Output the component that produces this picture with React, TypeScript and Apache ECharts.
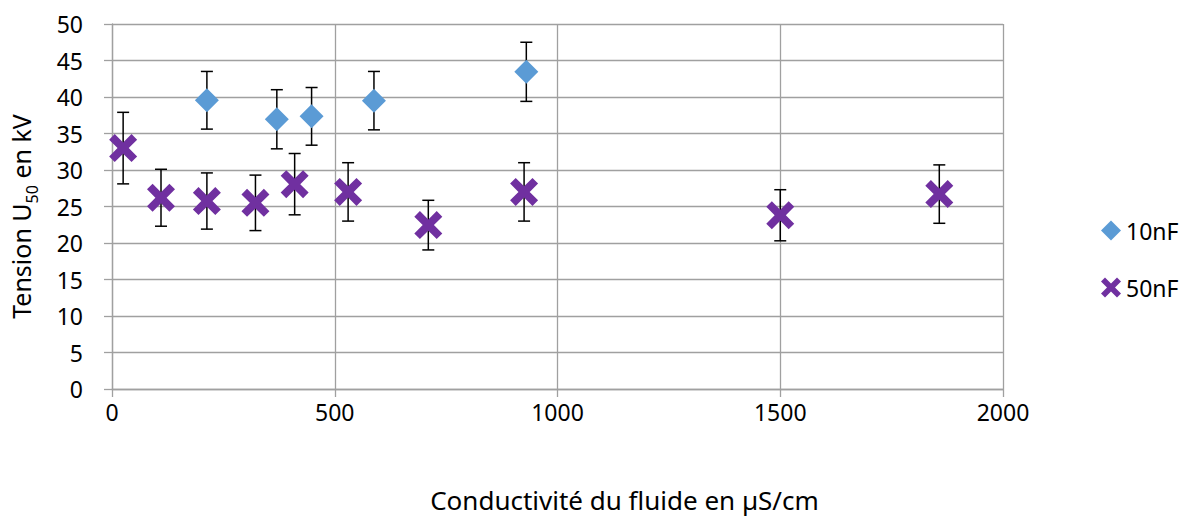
import React, { useEffect, useRef } from "react";
import * as echarts from "echarts";

const xTicks = [0, 500, 1000, 1500, 2000];
const yTicks = [0, 5, 10, 15, 20, 25, 30, 35, 40, 45, 50];

const series10Name = "10nF";
const x10 = [213, 370, 448, 588, 930];
const y10 = [39.55, 36.95, 37.35, 39.5, 43.45];
const err10 = [3.95, 4.05, 3.95, 4.0, 4.05];

const series50Name = "50nF";
const x50 = [25, 110, 213, 322, 410, 530, 710, 925, 1500, 1857];
const y50 = [33.0, 26.2, 25.75, 25.5, 28.06, 27.0, 22.45, 27.0, 23.8, 26.7];
const err50 = [4.9, 3.9, 3.85, 3.8, 4.2, 4.0, 3.4, 4.0, 3.5, 4.0];

const crossPath =
  "path://M2,0 L5,3 L8,0 L10,2 L7,5 L10,8 L8,10 L5,7 L2,10 L0,8 L3,5 L0,2 Z";

const FONT = "Noto Sans";

export default function App() {
  const ref = useRef<HTMLDivElement>(null);
  useEffect(() => {
    if (!ref.current) return;
    const chart = echarts.init(ref.current, null, { renderer: "svg" });
    const errData = [
      ...x10.map((x, i) => [x, y10[i] - err10[i], y10[i] + err10[i]]),
      ...x50.map((x, i) => [x, y50[i] - err50[i], y50[i] + err50[i]]),
    ];
    const grid = "#a0a0a0";
    chart.setOption({
      animation: false,
      textStyle: { fontFamily: FONT },
      grid: { left: 112, right: 189, top: 24, bottom: 132 },
      xAxis: {
        type: "value",
        min: xTicks[0],
        max: xTicks[xTicks.length - 1],
        interval: 500,
        axisLine: { show: true, lineStyle: { color: grid, width: 1.3 } },
        axisTick: { show: true, length: 8, lineStyle: { color: grid, width: 1.3 } },
        splitLine: { show: true, lineStyle: { color: grid, width: 1.3 } },
        axisLabel: {
          color: "#000",
          fontSize: 23,
          fontFamily: FONT,
          margin: 11,
          formatter: (v: number) => String(v),
        },
        name: "Conductivité du fluide en µS/cm",
        nameLocation: "middle",
        nameGap: 98,
        nameTextStyle: { color: "#000", fontSize: 26, fontFamily: FONT, padding: [0, 0, 0, 134] },
      },
      yAxis: {
        type: "value",
        min: yTicks[0],
        max: yTicks[yTicks.length - 1],
        interval: 5,
        axisLine: { show: true, lineStyle: { color: grid, width: 1.3 } },
        axisTick: { show: true, length: 8, lineStyle: { color: grid, width: 1.3 } },
        splitLine: { show: true, lineStyle: { color: grid, width: 1.3 } },
        axisLabel: { color: "#000", fontSize: 23, fontFamily: FONT, margin: 29 },
        name: "{a|Tension U}{s|50}{a| en kV}",
        nameLocation: "middle",
        nameGap: 79,
        nameRotate: 90,
        nameTextStyle: {
          color: "#000",
          fontFamily: FONT,
          padding: [0, 20, 0, 0],
          rich: {
            a: { fontSize: 25, fontFamily: FONT, color: "#000", lineHeight: 30, verticalAlign: "bottom" },
            s: { fontSize: 16, fontFamily: FONT, color: "#000", lineHeight: 30, verticalAlign: "bottom", padding: [0, 0, -7, 0] },
          },
        },
      },
      legend: {
        orient: "vertical",
        left: 1096,
        top: 214,
        itemWidth: 20,
        itemHeight: 20,
        itemGap: 34,
        textStyle: { color: "#000", fontSize: 23, fontFamily: FONT },
        data: [
          { name: series10Name, icon: "diamond" },
          { name: series50Name, icon: crossPath },
        ],
      },
      series: [
        {
          type: "custom",
          name: "err",
          z: 1,
          data: errData,
          renderItem: (params: any, api: any) => {
            const x = api.value(0);
            const lo = api.coord([x, api.value(1)]);
            const hi = api.coord([x, api.value(2)]);
            const cap = 6;
            const st = { stroke: "#000", lineWidth: 1.5 };
            return {
              type: "group",
              children: [
                { type: "line", shape: { x1: lo[0], y1: lo[1], x2: hi[0], y2: hi[1] }, style: st },
                { type: "line", shape: { x1: lo[0] - cap, y1: lo[1], x2: lo[0] + cap, y2: lo[1] }, style: st },
                { type: "line", shape: { x1: hi[0] - cap, y1: hi[1], x2: hi[0] + cap, y2: hi[1] }, style: st },
              ],
            };
          },
        },
        {
          type: "scatter",
          name: series10Name,
          z: 3,
          symbol: "diamond",
          symbolSize: 24,
          itemStyle: { color: "#5B9BD5", opacity: 1 },
          data: x10.map((x, i) => [x, y10[i]]),
        },
        {
          type: "scatter",
          name: series50Name,
          z: 3,
          symbol: crossPath,
          symbolSize: 28,
          itemStyle: { color: "#7030A0", opacity: 1 },
          data: x50.map((x, i) => [x, y50[i]]),
        },
      ],
    });
    return () => chart.dispose();
  }, []);
  return (
    <div
      ref={ref}
      style={{ position: "fixed", left: 0, top: 0, width: 1192, height: 521, background: "#fff" }}
    />
  );
}
